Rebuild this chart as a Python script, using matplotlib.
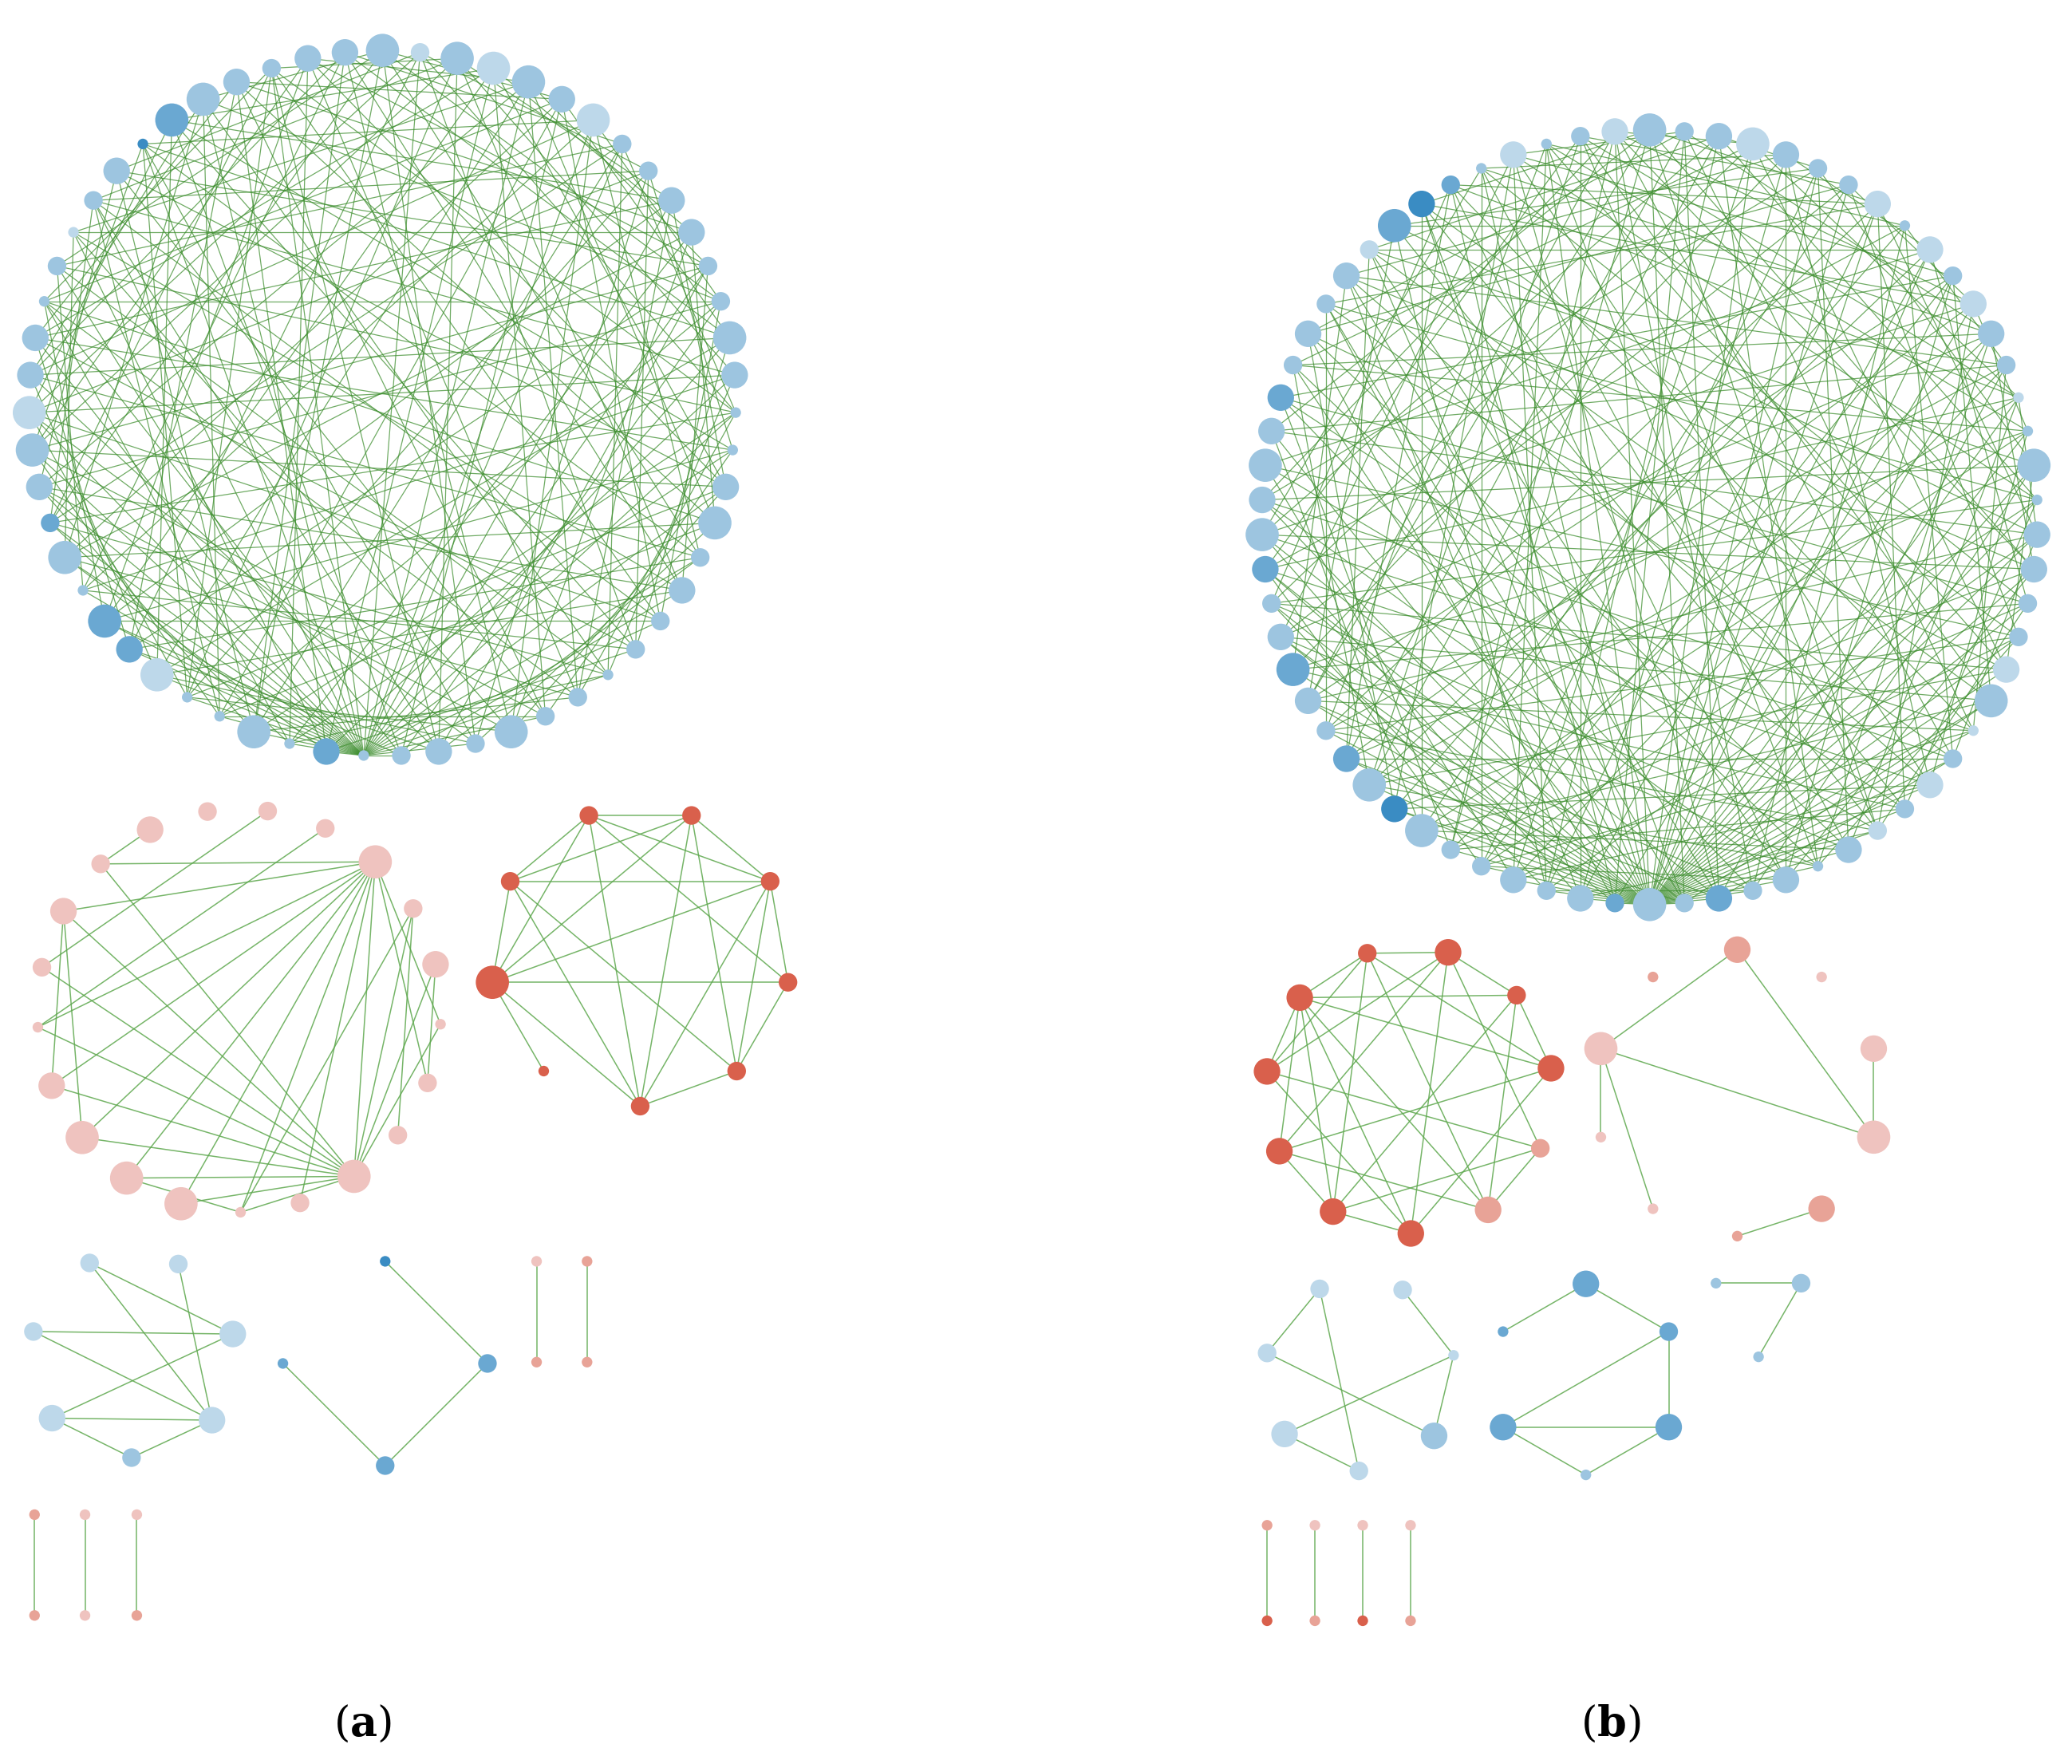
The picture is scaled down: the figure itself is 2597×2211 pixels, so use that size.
import numpy as np
import matplotlib
matplotlib.use("Agg")
import matplotlib.pyplot as plt
from matplotlib.collections import LineCollection

plt.rcParams['mathtext.fontset'] = 'dejavuserif'

BLUES = ['#bdd8ea', '#9dc5e0', '#6aa8d2', '#3a8cc3']
REDS = ['#efc3bf', '#e8a397', '#d9604c']
SIZE = {'t': 4, 's': 7, 'm': 10, 'b': 12.5}

# ---------- data ----------
A_sizes = "bsbbbmbssmmssbmttmbsmsstssbsmstmtbttbmbtbsmbbmmtstsmtbbmsmm"
A_shades = [1,0,1,0,1,1,0,1,1,1, 1,1,1,1,1,1,1,1,1,1, 1,1,1,1,1,1,1,1,1,1,
            1,2,1,1,1,1,0,2,2,1, 1,2,1,1,0,1,1,1,1,0, 1,1,3,2,1,1,1,1,1]
A_adj = """0:5,12,19,27,33,41,48,54
1:8,15,22,30,37,44,51
2:9,14,20,28,35,43,50,56
3:10,17,25,31,38,46,53
4:11,18,24,30,36,42,49,57
5:13,21,29,34,40,47,55
6:12,19,26,30,39,45,52
7:15,23,30,33,41,48,58
8:16,22,27,35,44,50
9:17,24,30,38,46,53
10:18,26,32,40,49,55
11:20,28,30,37,43,51,57
12:21,29,34,42,47,54
13:22,30,36,45,52,58
14:23,31,39,44,50
15:24,30,33,41,48,56
16:25,32,38,46,53
17:26,30,35,43,51,57
18:27,34,40,47,55
19:28,30,37,45,52
20:29,36,42,49,58
21:30,38,44,50,56
22:31,39,46,53
23:30,32,41,48,54
24:33,40,47,57
25:30,34,43,51,55
26:35,42,49,58
27:30,36,44,52
28:37,45,50,56
29:30,38,47,53
30:31,32,33,34,35,36,37,38,39,40,41,42,43,44,46,48,50,52,54,56
31:40,49,55
32:41,47,57
33:42,51,58
34:43,50,54
35:44,52,56
36:45,53
37:46,55
38:47,57
39:48,58
40:49,54
41:50,56
42:51
43:52,57
44:53
45:54,58
46:55
47:56"""

B_sizes = ("bsmbmssmtm" "smmsttbtmm" "ssmbtsmssm" "tmsmsbsmsm"
           "ssbmbmsmbm" "smbmbmmsms" "msbmstmtsm")
B_shades = [int(c) for c in ("1110111010" "1011011111" "1101010101" "1112112111"
                             "1113121121" "1211112111" "1023210110")]
B_adj = """0:7,19,28,34,41,47,55,63
1:12,24,33,36,45,58,66
2:5,17,30,38,44,52,61
3:14,22,35,39,50,57,69
4:9,26,31,37,48,60,65
5:16,29,35,40,53,62
6:11,21,35,42,49,58,68
7:18,27,35,38,46,59,64
8:13,25,32,43,51,62,67
9:20,35,37,44,54,61
10:23,31,35,40,47,56,66
11:15,28,36,45,52,63,69
12:19,30,35,41,49,57,65
13:24,33,39,46,55,60
14:18,29,35,44,51,64,68
15:26,35,42,48,57,67
16:22,32,35,45,53,61
17:27,35,40,50,59,66
18:25,35,38,47,55,62
19:31,35,43,52,60,69
20:28,35,41,48,56,65
21:30,35,39,46,54,63
22:35,44,50,58,67
23:34,35,42,49,61,68
24:35,40,47,53,64
25:33,35,45,52,59,69
26:35,39,43,51,60,66
27:35,41,48,56,63
28:35,37,46,54,62,68
29:35,42,50,58,65
30:35,44,49,57,67
31:35,40,53,61,64
32:35,38,47,56,69
33:35,45,52,60,66
34:35,43,51,59,63
35:36,37,38,39,40,41,42,43,44,45,46,47,48,49,50,51,53,55,57,59,61,63,65,67,69
36:49,58,64
37:52,60,68
38:50,62,66
39:54,67
40:51,65
41:56,69
42:55,63
43:58,66
44:57,68
45:61,64
46:59,67
47:62,69
48:60
49:66
50:64
51:68
52:65
53:69"""

# small components: (center x, center y, radius, start angle, n, sizes, colours, edges, palette)
small_graphs = [
    (180, 762, 152, 99, 21, "sssbsmtssbstbbbmtsmsm",
     [0]*21,
     [(3,19),(3,18),(3,16),(3,15),(3,13),(3,11),(3,9),(3,14),(3,12),(3,7),(3,6),(3,10),
      (9,19),(9,18),(9,16),(9,15),(9,14),(9,13),(9,17),(9,4),(9,5),(9,6),(9,12),(9,11),
      (18,15),(18,14),(4,11),(5,7),(2,16),(1,17),(4,8),(19,20),(13,11)], 'r'),
    (482, 721, 113, 110, 9, "sssssstbs", [2]*9,
     [(0,1),(0,2),(0,3),(0,5),(0,7),(0,8),(1,2),(1,4),(1,5),(1,7),(1,8),(2,3),(2,4),
      (2,7),(2,8),(3,4),(3,7),(4,5),(4,8),(5,7),(5,8),(7,8),(6,7),(2,5)], 'r'),
    (100, 1022, 77, 115, 7, "ssmmsms", [0,0,0,0,1,0,0],
     [(0,3),(0,2),(1,3),(6,2),(6,3),(5,2),(5,3),(5,4),(4,3)], 'b'),
    (290, 1028, 77, 90, 4, "tsst", [3,2,2,2], [(0,1),(1,2),(3,2)], 'b'),
    (404, 989, 38, 90, 2, "tt", [0,1], [(0,1)], 'r'),
    (442, 989, 38, 90, 2, "tt", [1,1], [(0,1)], 'r'),
    (26, 1180, 38, 90, 2, "tt", [1,1], [(0,1)], 'r'),
    (64, 1180, 38, 90, 2, "tt", [0,0], [(0,1)], 'r'),
    (103, 1180, 38, 90, 2, "tt", [0,1], [(0,1)], 'r'),
    (1061, 822, 108, 107, 11, "smsmsmmmmmm", [2,2,2,2,1,1,2,2,2,2,2],
     [(0,1),(0,3),(0,5),(0,7),(0,9),(0,10),(1,2),(1,4),(1,6),(1,8),(1,9),(2,5),(2,7),
      (2,10),(3,6),(3,8),(3,10),(4,7),(4,9),(5,8),(5,10),(6,9),(6,10),(7,10),(8,10),
      (9,10),(2,3),(4,5),(6,7),(7,8)], 'r'),
    (1308, 824, 108, 90, 10, "mtmbmtttbt", [1,0,0,0,1,1,0,0,0,1],
     [(0,8),(0,3),(8,3),(2,3),(8,6),(8,7),(4,5)], 'r'),
    (1024, 1037, 72, 115, 7, "sstmsms", [0,0,0,1,0,0,0],
     [(0,6),(0,4),(1,2),(2,3),(2,5),(6,3),(5,4)], 'b'),
    (1194, 1040, 72, 90, 6, "msmtmt", [2,2,2,1,2,2],
     [(5,0),(0,1),(1,2),(2,3),(3,4),(4,2),(4,1)], 'b'),
    (1324, 986, 37, 150, 3, "tst", [1,1,1], [(0,1),(1,2)], 'b'),
    (954, 1186, 36, 90, 2, "tt", [1,2], [(0,1)], 'r'),
    (990, 1186, 36, 90, 2, "tt", [0,1], [(0,1)], 'r'),
    (1026, 1186, 36, 90, 2, "tt", [0,2], [(0,1)], 'r'),
    (1062, 1186, 36, 90, 2, "tt", [0,1], [(0,1)], 'r'),
]

panel_labels = ["a", "b"]
label_x = [273, 1213]

# ---------- drawing ----------
W, H = 1560, 1330
fig = plt.figure(figsize=(25.97, 22.11), dpi=100)
ax = fig.add_axes([0, 0, 1, 1])
ax.set_xlim(0, W)
ax.set_ylim(H, 0)
ax.axis('off')
PX = 2597 / W * 0.72  # display px -> points


def parse(adj):
    e = []
    for line in adj.strip().splitlines():
        a, rest = line.split(':')
        e += [(int(a), int(b)) for b in rest.split(',')]
    return e


def draw(cx, cy, r, start, n, sizes, shades, edges, pal, lw, ecol, alpha):
    ang = np.deg2rad(start - 360.0 * np.arange(n) / n)
    xs = cx + r * np.cos(ang)
    ys = cy - r * np.sin(ang)
    segs = [[(xs[i], ys[i]), (xs[j], ys[j])] for i, j in edges]
    ax.add_collection(LineCollection(segs, colors=ecol, linewidths=lw, alpha=alpha, zorder=1))
    cols = [(BLUES if pal == 'b' else REDS)[min(s, 3 if pal == 'b' else 2)] for s in shades]
    s = [(2 * SIZE[c] * PX) ** 2 for c in sizes]
    ax.scatter(xs, ys, s=s, c=cols, edgecolors='none', zorder=2)


draw(288, 304, 266, 90, 59, A_sizes, A_shades, parse(A_adj), 'b', 0.9, '#3f8f30', 0.75)
draw(1242, 390, 292, 90, 70, B_sizes, B_shades, parse(B_adj), 'b', 0.9, '#3f8f30', 0.75)
for g in small_graphs:
    cx, cy, r, st, n, sz, sh, ed, pal = g
    draw(cx, cy, r, st, n, sz, sh, ed, pal, 1.1, '#5ea84e', 0.85)

for lab, x in zip(panel_labels, label_x):
    ax.text(x, 1300, r'($\mathbf{%s}$)' % lab, fontsize=38, family='DejaVu Serif',
            ha='center', va='center')

fig.savefig('out.png', dpi=100)
